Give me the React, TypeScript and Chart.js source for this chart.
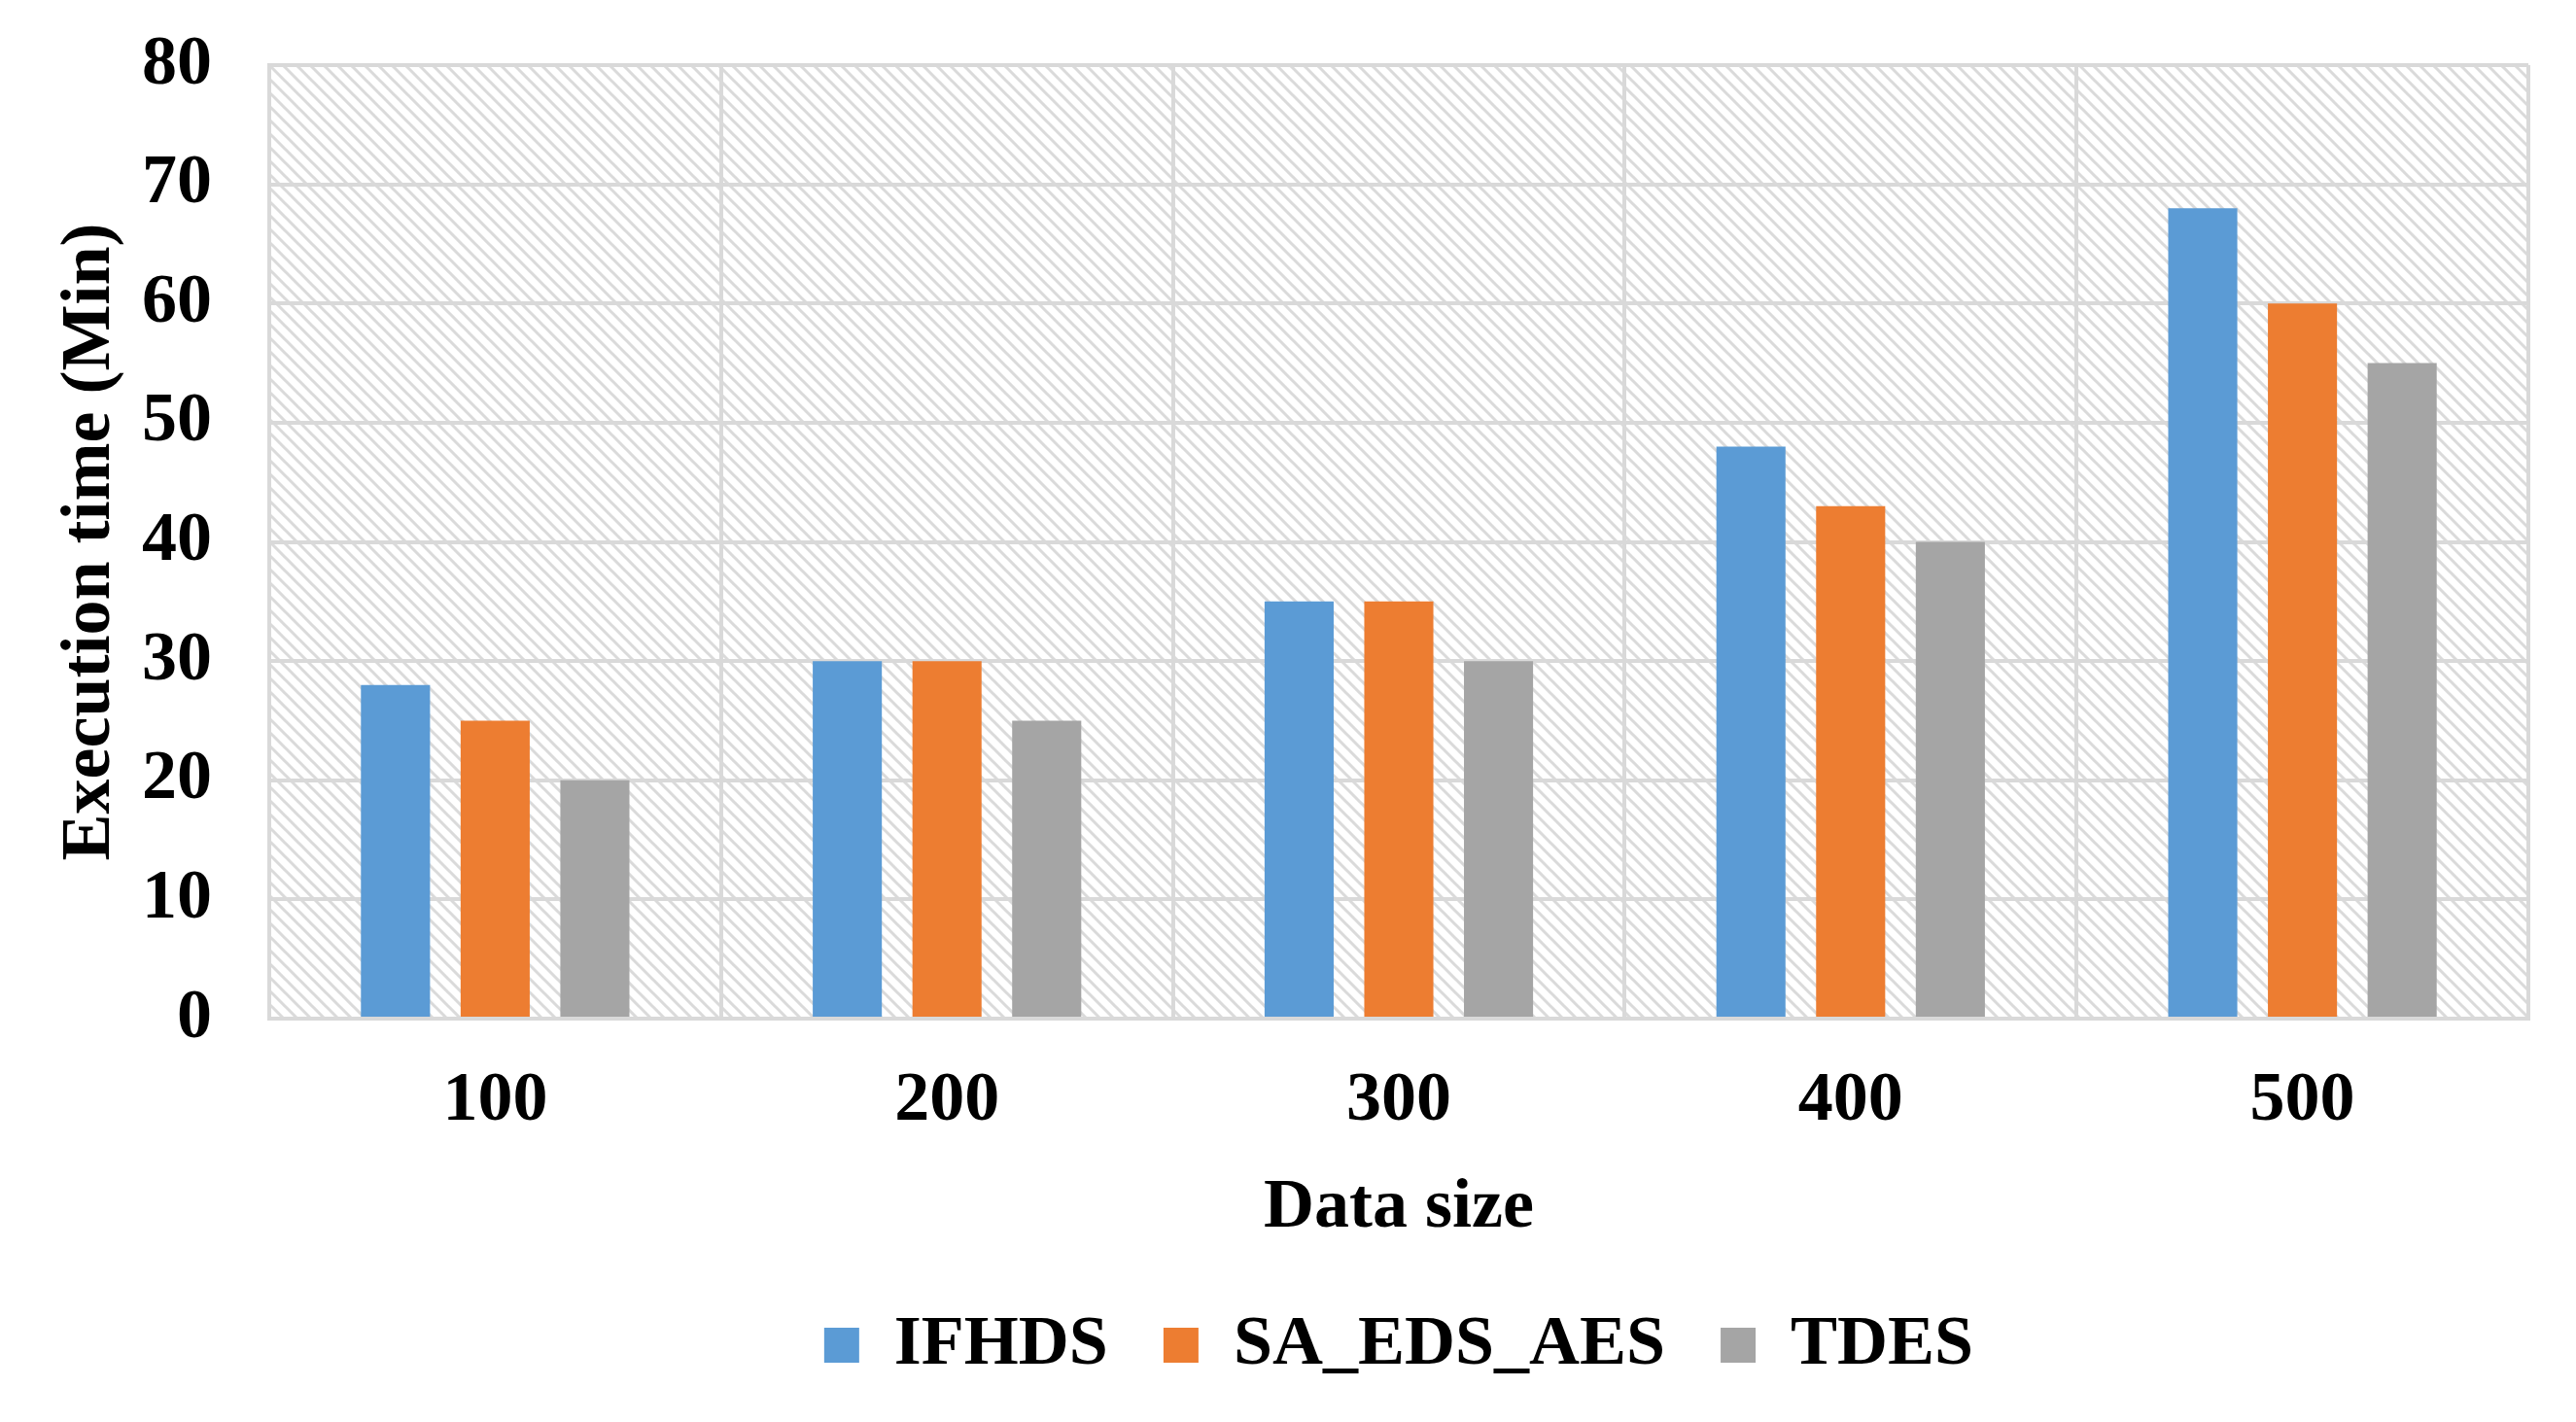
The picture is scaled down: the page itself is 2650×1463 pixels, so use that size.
import { useEffect, useRef } from 'react';
import { Chart, registerables } from 'chart.js';

Chart.register(...registerables);

const FONT = '"Liberation Serif", "Times New Roman", Times, serif';

const categories = ['100', '200', '300', '400', '500'];
const ifhds = [28, 30, 35, 48, 68];
const saEdsAes = [25, 30, 35, 43, 60];
const tdes = [20, 25, 30, 40, 55];
const seriesNames = ['IFHDS', 'SA_EDS_AES', 'TDES'];
const seriesColors = ['#5B9BD5', '#ED7D31', '#A5A5A5'];
const yMin = 0;
const yMax = 80;
const yStep = 10;

const GRID = '#d9d9d9';

function makeHatch(ctx: CanvasRenderingContext2D): CanvasPattern | string {
  const s = 14;
  const c = document.createElement('canvas');
  c.width = s;
  c.height = s;
  const p = c.getContext('2d');
  if (!p) return '#f2f2f2';
  p.fillStyle = '#ffffff';
  p.fillRect(0, 0, s, s);
  p.strokeStyle = '#dadada';
  p.lineWidth = 3;
  p.lineCap = 'square';
  p.beginPath();
  p.moveTo(0, 0);
  p.lineTo(s, s);
  p.moveTo(-2, s - 2);
  p.lineTo(2, s + 2);
  p.moveTo(s - 2, -2);
  p.lineTo(s + 2, 2);
  p.stroke();
  return ctx.createPattern(c, 'repeat') || '#f2f2f2';
}

export default function App() {
  const ref = useRef<HTMLCanvasElement>(null);

  useEffect(() => {
    const canvas = ref.current;
    if (!canvas) return;

    const hatchPlugin = {
      id: 'hatchBackground',
      beforeDraw(chart: any) {
        const { ctx, chartArea } = chart;
        if (!chartArea) return;
        ctx.save();
        ctx.fillStyle = makeHatch(ctx);
        ctx.fillRect(chartArea.left, chartArea.top, chartArea.right - chartArea.left, chartArea.bottom - chartArea.top);
        ctx.restore();
      },
    };

    const values = [ifhds, saEdsAes, tdes];

    const chart = new Chart(canvas, {
      type: 'bar',
      data: {
        labels: categories,
        datasets: seriesNames.map((name, i) => ({
          label: name,
          data: values[i],
          backgroundColor: seriesColors[i],
          borderWidth: 0,
          categoryPercentage: 0.662,
          barPercentage: 0.693,
        })),
      },
      options: {
        animation: false,
        responsive: true,
        maintainAspectRatio: false,
        devicePixelRatio: 1,
        layout: { padding: { top: 67, right: 49, bottom: 33, left: 0 } },
        plugins: {
          tooltip: { enabled: false },
          legend: {
            position: 'bottom',
            fullSize: false,
            labels: {
              color: '#000',
              font: { family: FONT, size: 72, weight: 'bold' },
              boxWidth: 36,
              boxHeight: 36,
              padding: 57,
            },
          },
        },
        scales: {
          x: {
            grid: { color: GRID, lineWidth: 4, drawTicks: false, offset: true },
            border: { color: GRID, width: 4 },
            ticks: {
              color: '#000',
              font: { family: FONT, size: 72, weight: 'bold' },
              padding: 42,
            },
            title: {
              display: true,
              text: 'Data size',
              color: '#000',
              font: { family: FONT, size: 72, weight: 'bold' },
              padding: { top: 4, bottom: 4 },
            },
            afterFit: (scale: any) => {
              scale.height = 243;
            },
          },
          y: {
            min: yMin,
            max: yMax,
            grid: { color: GRID, lineWidth: 4, drawTicks: true, tickLength: 59, tickColor: 'rgba(0,0,0,0)' },
            border: { color: GRID, width: 4 },
            ticks: {
              stepSize: yStep,
              color: '#000',
              font: { family: FONT, size: 72, weight: 'bold' },
              padding: 0,
            },
            title: {
              display: true,
              text: 'Execution time (Min)',
              color: '#000',
              font: { family: FONT, size: 72, weight: 'bold' },
              padding: { top: 50, bottom: 0 },
            },
            afterFit: (scale: any) => {
              scale.width = 277;
            },
          },
        },
      },
      plugins: [hatchPlugin],
    });

    return () => chart.destroy();
  }, []);

  return (
    <div style={{ position: 'absolute', left: 0, top: 0, width: 2650, height: 1463, background: '#fff' }}>
      <canvas ref={ref} />
    </div>
  );
}
